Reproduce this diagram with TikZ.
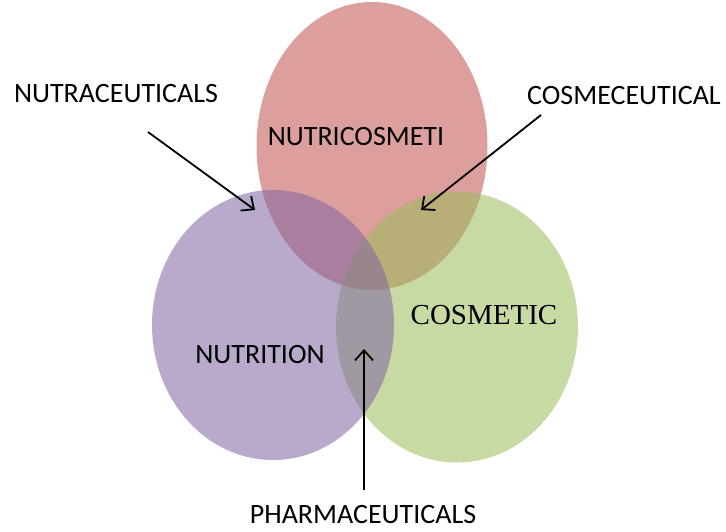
\documentclass[tikz,border=0pt]{standalone}
\usepackage{fontspec}
\setmainfont{Carlito}
\newfontfamily\timesfont{Liberation Serif}
\usetikzlibrary{arrows.meta,shapes.geometric,positioning}

\definecolor{redset}{HTML}{C0504D}
\definecolor{purpleset}{HTML}{8064A2}
\definecolor{greenset}{HTML}{9BBB59}

\begin{document}
\begin{tikzpicture}[x=1pt,y=-1pt,
   set/.style={ellipse, inner sep=0pt, fill opacity=0.55},
   label/.style={font=\fontsize{28}{30}\selectfont, inner sep=0pt},
   pointer/.style={-{Straight Barb[length=10pt,width=18pt]}, line width=1.8pt}]
   \useasboundingbox (0,0) rectangle (726,531);

   % the three sets
   \node (red) at (372,146) [set, fill=redset, minimum width=231pt, minimum height=288pt] {};
   \node (green) at (457,327) [set, fill=greenset, minimum width=242pt, minimum height=271pt] {};
   \node (purple) at (273,325) [set, fill=purpleset, minimum width=242pt, minimum height=270pt] {};

   \node (nutricos) at (356,137) [label] {NUTRICOSMETI};
   \node (nutrition) at (260,355) [label] {NUTRITION};
   \node (cosmetic) at (484,315) [label, font=\timesfont\fontsize{29}{31}\selectfont] {COSMETIC};

   % outside labels and arrows
   \node (nutra) at (116,94) [label] {NUTRACEUTICALS};
   \node (cosmeceu) at (624,96) [label] {COSMECEUTICAL};
   \node (pharma) at (363,515) [label] {PHARMACEUTICALS};

   \coordinate (nutraTail) at (148,132);
   \coordinate (nutraHead) at (255,210);
   \coordinate (cosmTail) at (541,115);
   \coordinate (cosmHead) at (421,210);
   \coordinate (pharmaTail) at (364,490);
   \coordinate (pharmaHead) at (364,349);

   \draw (nutraTail)[pointer] -- (nutraHead);
   \draw (cosmTail)[pointer] -- (cosmHead);
   \draw (pharmaTail)[pointer] -- (pharmaHead);
\end{tikzpicture}
\end{document}
